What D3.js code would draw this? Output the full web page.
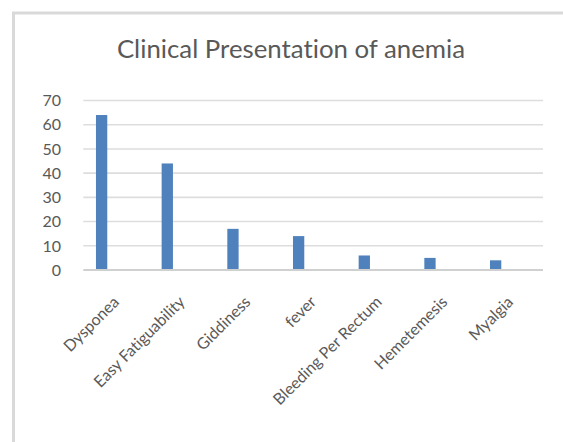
<!DOCTYPE html>
<html>
<head>
<meta charset="utf-8">
<script src="https://cdn.jsdelivr.net/npm/d3@7"></script>
<style>
  html, body { margin: 0; padding: 0; background: #fff; }
  svg { display: block; }
  text { font-variant-ligatures: none; font-feature-settings: "liga" 0, "clig" 0; }
</style>
</head>
<body>
<script>
const title = "Clinical Presentation of anemia";
const categories = ["Dysponea", "Easy Fatiguability", "Giddiness", "fever", "Bleeding Per Rectum", "Hemetemesis", "Myalgia"];
const values = [64, 44, 17, 14, 6, 5, 4];
const yTicks = [0, 10, 20, 30, 40, 50, 60, 70];

const W = 563, H = 442;
const plot = { left: 83.3, right: 543, top: 100.5, bottom: 270 };
const font = "Lato, 'Open Sans', sans-serif";
const textColor = "#595959";

const svg = d3.select("body").append("svg").attr("width", W).attr("height", H);

// chart border
svg.append("rect")
  .attr("x", 13.5).attr("y", 13)
  .attr("width", 600).attr("height", 500)
  .attr("fill", "none").attr("stroke", "#d9d9d9").attr("stroke-width", 3);

const y = d3.scaleLinear().domain([0, 70]).range([plot.bottom, plot.top]);
const xCat = d3.scaleBand().domain(categories).range([plot.left, plot.right]);
const xBar = d3.scaleBand().domain(categories).range([plot.left, plot.right])
  .paddingInner(0.828).paddingOuter(0.414).align(0.233);

// gridlines
svg.append("g").selectAll("line").data(yTicks.filter(d => d > 0)).join("line")
  .attr("x1", plot.left).attr("x2", plot.right)
  .attr("y1", d => y(d)).attr("y2", d => y(d))
  .attr("stroke", "#dddddd").attr("stroke-width", 1.6);

// y tick labels
svg.append("g").selectAll("text").data(yTicks).join("text")
  .attr("x", 61).attr("y", d => y(d))
  .attr("dy", "0.36em")
  .attr("text-anchor", "end")
  .attr("font-family", font).attr("font-size", 16)
  .attr("fill", textColor)
  .text(d => d);

// bars
svg.append("g").selectAll("rect").data(categories).join("rect")
  .attr("x", d => xBar(d))
  .attr("width", xBar.bandwidth())
  .attr("y", (d, i) => y(values[i]))
  .attr("height", (d, i) => y(0) - y(values[i]))
  .attr("fill", "#4f81bd");

// x axis line
svg.append("line")
  .attr("x1", plot.left).attr("x2", plot.right)
  .attr("y1", y(0)).attr("y2", y(0))
  .attr("stroke", "#d0d0d0").attr("stroke-width", 2);

// category labels
svg.append("g").selectAll("text").data(categories).join("text")
  .attr("transform", d => `translate(${xCat(d) + xCat.bandwidth() / 2 + 4},${303}) rotate(-45)`)
  .attr("text-anchor", "end")
  .attr("font-family", font).attr("font-size", 16)
  .attr("fill", textColor)
  .text(d => d);

// title
svg.append("text")
  .attr("x", 291).attr("y", 58)
  .attr("text-anchor", "middle")
  .attr("font-family", font).attr("font-size", 25.8)
  .attr("fill", textColor)
  .text(title);
</script>
</body>
</html>
